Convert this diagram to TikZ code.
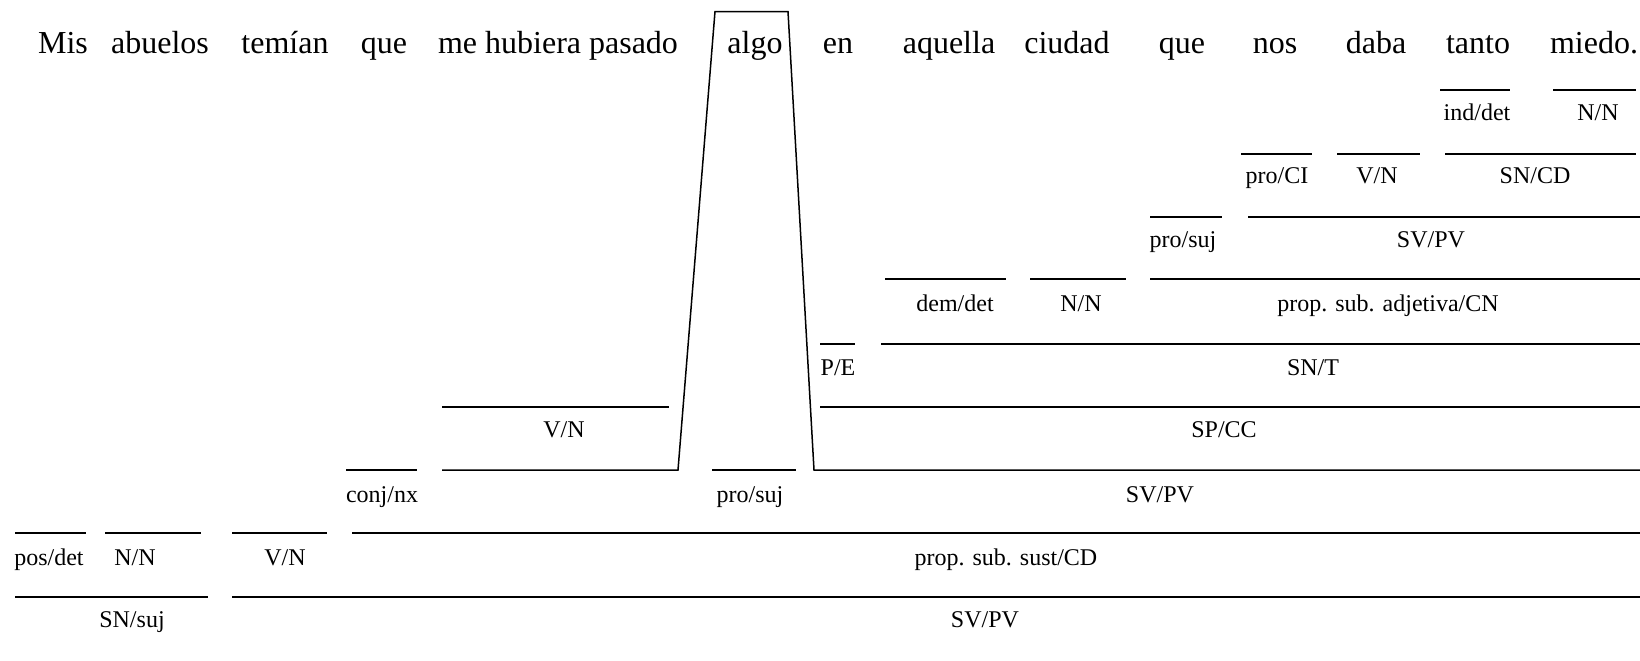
\documentclass[tikz,border=0pt]{standalone}
\usepackage{fontspec}
\setmainfont{Liberation Serif}
\usepackage{tikz}

\tikzset{
  word/.style={anchor=base, inner sep=0pt, font=\fontsize{16}{19}\selectfont},
  tag/.style={anchor=base, inner sep=0pt, font=\fontsize{12}{14}\selectfont},
  bar/.style={line width=0.75pt}
}

\begin{document}
\begin{tikzpicture}[x=0.5pt, y=-0.5pt]
    \useasboundingbox (0,0) rectangle (1640,660);
    % sentence
    \node [word] (mis) at (63, 53) {Mis};
    \node [word] (abuelos) at (160, 53) {abuelos};
    \node [word] (temian) at (285, 53) {temían};
    \node [word] (que1) at (384, 53) {que};
    \node [word] (pasado) at (558, 53) {me hubiera pasado};
    \node [word] (algo) at (755, 53) {algo};
    \node [word] (en) at (838, 53) {en};
    \node [word] (aquella) at (949, 53) {aquella};
    \node [word] (ciudad) at (1067, 53) {ciudad};
    \node [word] (que2) at (1182, 53) {que};
    \node [word] (nos) at (1275, 53) {nos};
    \node [word] (daba) at (1376, 53) {daba};
    \node [word] (tanto) at (1478, 53) {tanto};
    \node [word] (miedo) at (1594, 53) {miedo.};
    % tanto miedo
    \draw [bar] (1440, 90) -- (1510, 90);
    \draw [bar] (1553, 90) -- (1636, 90);
    \node [tag] (inddet) at (1477, 120) {ind/det};
    \node [tag] (nn3) at (1598, 120) {N/N};
    % nos daba tanto miedo
    \draw [bar] (1241, 154) -- (1312, 154);
    \draw [bar] (1337, 154) -- (1420, 154);
    \draw [bar] (1445, 154) -- (1636, 154);
    \node [tag] (proci) at (1277, 183) {pro/CI};
    \node [tag] (vn3) at (1377, 183) {V/N};
    \node [tag] (sncd) at (1535, 183) {SN/CD};
    % que ...
    \draw [bar] (1150, 217) -- (1222, 217);
    \draw [bar] (1248, 217) -- (1640, 217);
    \node [tag] (prosuj2) at (1183, 247) {pro/suj};
    \node [tag] (svpv3) at (1431, 247) {SV/PV};
    % aquella ciudad ...
    \draw [bar] (885, 279) -- (1006, 279);
    \draw [bar] (1030, 279) -- (1126, 279);
    \draw [bar] (1150, 279) -- (1640, 279);
    \node [tag] (demdet) at (955, 311) {dem/det};
    \node [tag] (nn2) at (1081, 311) {N/N};
    \node [tag] (adjcn) at (1388, 311) {prop. sub. adjetiva/CN};
    % en ...
    \draw [bar] (820, 344) -- (855, 344);
    \draw [bar] (881, 344) -- (1640, 344);
    \node [tag] (pe) at (838, 375) {P/E};
    \node [tag] (snt) at (1313, 375) {SN/T};
    \draw [bar] (442, 407) -- (669, 407);
    \draw [bar] (820, 407) -- (1640, 407);
    \node [tag] (vn2) at (564, 437) {V/N};
    \node [tag] (spcc) at (1224, 437) {SP/CC};
    % que me hubiera pasado algo ...
    \draw [bar] (346, 470) -- (417, 470);
    \draw [bar] (442, 470) -- (678, 470) -- (715, 11.5) -- (788, 11.5) -- (814, 470) -- (1640, 470);
    \draw [bar] (712, 470) -- (796, 470);
    \node [tag] (conjnx) at (382, 502) {conj/nx};
    \node [tag] (prosuj1) at (750, 502) {pro/suj};
    \node [tag] (svpv2) at (1160, 502) {SV/PV};
    % main clause
    \draw [bar] (15, 533) -- (86, 533);
    \draw [bar] (105, 533) -- (201, 533);
    \draw [bar] (232, 533) -- (327, 533);
    \draw [bar] (352, 533) -- (1640, 533);
    \node [tag] (posdet) at (49, 565) {pos/det};
    \node [tag] (nn1) at (135, 565) {N/N};
    \node [tag] (vn1) at (285, 565) {V/N};
    \node [tag] (sustcd) at (1006, 565) {prop. sub. sust/CD};
    \draw [bar] (15, 597) -- (208, 597);
    \draw [bar] (232, 597) -- (1640, 597);
    \node [tag] (snsuj) at (132, 627) {SN/suj};
    \node [tag] (svpv1) at (985, 627) {SV/PV};
\end{tikzpicture}
\end{document}
